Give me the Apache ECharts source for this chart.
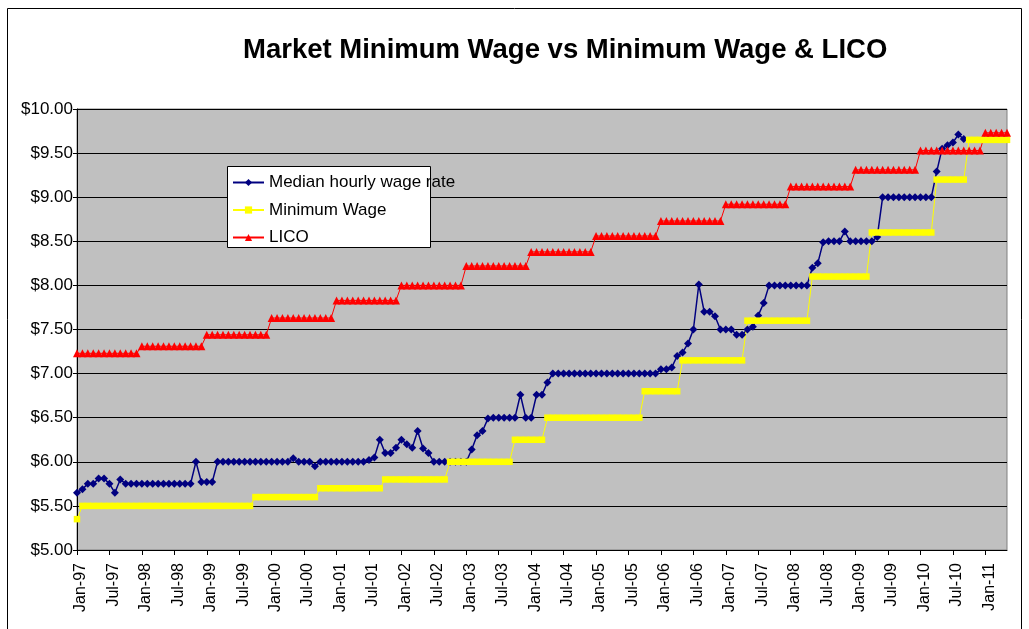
<!DOCTYPE html>
<html>
<head>
<meta charset="utf-8">
<title>Market Minimum Wage vs Minimum Wage &amp; LICO</title>
<script src="https://cdn.jsdelivr.net/npm/echarts@6/dist/echarts.min.js"></script>
<style>
  html, body { margin: 0; padding: 0; background: #fff; }
  #myChart { width: 1029px; height: 629px; }
</style>
</head>
<body>
<div id="myChart"></div>
<script>
// month labels Jan-97 .. May-11
var monthNames = ['Jan', 'Feb', 'Mar', 'Apr', 'May', 'Jun', 'Jul', 'Aug', 'Sep', 'Oct', 'Nov', 'Dec'];
var firstYear = 1997;
var monthCount = 173;
var months = [];
for (var i = 0; i < monthCount; i++) {
  var yy = (firstYear + Math.floor(i / 12)) % 100;
  months.push(monthNames[i % 12] + '-' + (yy < 10 ? '0' + yy : yy));
}

// one row per year
var medianWage = [
  5.65, 5.69, 5.75, 5.75, 5.81, 5.81, 5.75, 5.65, 5.80, 5.75, 5.75, 5.75,
  5.75, 5.75, 5.75, 5.75, 5.75, 5.75, 5.75, 5.75, 5.75, 5.75, 6.00, 5.77,
  5.77, 5.77, 6.00, 6.00, 6.00, 6.00, 6.00, 6.00, 6.00, 6.00, 6.00, 6.00,
  6.00, 6.00, 6.00, 6.00, 6.04, 6.00, 6.00, 6.00, 5.95, 6.00, 6.00, 6.00,
  6.00, 6.00, 6.00, 6.00, 6.00, 6.00, 6.02, 6.05, 6.25, 6.10, 6.10, 6.16,
  6.25, 6.20, 6.16, 6.35, 6.15, 6.10, 6.00, 6.00, 6.00, 6.00, 6.00, 6.00,
  6.00, 6.14, 6.30, 6.35, 6.49, 6.50, 6.50, 6.50, 6.50, 6.50, 6.76, 6.50,
  6.50, 6.76, 6.76, 6.90, 7.00, 7.00, 7.00, 7.00, 7.00, 7.00, 7.00, 7.00,
  7.00, 7.00, 7.00, 7.00, 7.00, 7.00, 7.00, 7.00, 7.00, 7.00, 7.00, 7.00,
  7.05, 7.05, 7.07, 7.20, 7.24, 7.34, 7.50, 8.01, 7.70, 7.70, 7.65, 7.50,
  7.50, 7.50, 7.44, 7.44, 7.50, 7.53, 7.66, 7.80, 8.00, 8.00, 8.00, 8.00,
  8.00, 8.00, 8.00, 8.00, 8.20, 8.25, 8.49, 8.50, 8.50, 8.50, 8.61, 8.50,
  8.50, 8.50, 8.50, 8.50, 8.55, 9.00, 9.00, 9.00, 9.00, 9.00, 9.00, 9.00,
  9.00, 9.00, 9.00, 9.29, 9.55, 9.59, 9.62, 9.71, 9.66, null, null, null,
  null, null, null, null, null
];

var minimumWage = [
  5.35, 5.50, 5.50, 5.50, 5.50, 5.50, 5.50, 5.50, 5.50, 5.50, 5.50, 5.50,
  5.50, 5.50, 5.50, 5.50, 5.50, 5.50, 5.50, 5.50, 5.50, 5.50, 5.50, 5.50,
  5.50, 5.50, 5.50, 5.50, 5.50, 5.50, 5.50, 5.50, 5.50, 5.60, 5.60, 5.60,
  5.60, 5.60, 5.60, 5.60, 5.60, 5.60, 5.60, 5.60, 5.60, 5.70, 5.70, 5.70,
  5.70, 5.70, 5.70, 5.70, 5.70, 5.70, 5.70, 5.70, 5.70, 5.80, 5.80, 5.80,
  5.80, 5.80, 5.80, 5.80, 5.80, 5.80, 5.80, 5.80, 5.80, 6.00, 6.00, 6.00,
  6.00, 6.00, 6.00, 6.00, 6.00, 6.00, 6.00, 6.00, 6.00, 6.25, 6.25, 6.25,
  6.25, 6.25, 6.25, 6.50, 6.50, 6.50, 6.50, 6.50, 6.50, 6.50, 6.50, 6.50,
  6.50, 6.50, 6.50, 6.50, 6.50, 6.50, 6.50, 6.50, 6.50, 6.80, 6.80, 6.80,
  6.80, 6.80, 6.80, 6.80, 7.15, 7.15, 7.15, 7.15, 7.15, 7.15, 7.15, 7.15,
  7.15, 7.15, 7.15, 7.15, 7.60, 7.60, 7.60, 7.60, 7.60, 7.60, 7.60, 7.60,
  7.60, 7.60, 7.60, 7.60, 8.10, 8.10, 8.10, 8.10, 8.10, 8.10, 8.10, 8.10,
  8.10, 8.10, 8.10, 8.60, 8.60, 8.60, 8.60, 8.60, 8.60, 8.60, 8.60, 8.60,
  8.60, 8.60, 8.60, 9.20, 9.20, 9.20, 9.20, 9.20, 9.20, 9.65, 9.65, 9.65,
  9.65, 9.65, 9.65, 9.65, 9.65
];

var lico = [
  7.23, 7.23, 7.23, 7.23, 7.23, 7.23, 7.23, 7.23, 7.23, 7.23, 7.23, 7.23,
  7.31, 7.31, 7.31, 7.31, 7.31, 7.31, 7.31, 7.31, 7.31, 7.31, 7.31, 7.31,
  7.44, 7.44, 7.44, 7.44, 7.44, 7.44, 7.44, 7.44, 7.44, 7.44, 7.44, 7.44,
  7.63, 7.63, 7.63, 7.63, 7.63, 7.63, 7.63, 7.63, 7.63, 7.63, 7.63, 7.63,
  7.83, 7.83, 7.83, 7.83, 7.83, 7.83, 7.83, 7.83, 7.83, 7.83, 7.83, 7.83,
  8.00, 8.00, 8.00, 8.00, 8.00, 8.00, 8.00, 8.00, 8.00, 8.00, 8.00, 8.00,
  8.22, 8.22, 8.22, 8.22, 8.22, 8.22, 8.22, 8.22, 8.22, 8.22, 8.22, 8.22,
  8.38, 8.38, 8.38, 8.38, 8.38, 8.38, 8.38, 8.38, 8.38, 8.38, 8.38, 8.38,
  8.56, 8.56, 8.56, 8.56, 8.56, 8.56, 8.56, 8.56, 8.56, 8.56, 8.56, 8.56,
  8.73, 8.73, 8.73, 8.73, 8.73, 8.73, 8.73, 8.73, 8.73, 8.73, 8.73, 8.73,
  8.92, 8.92, 8.92, 8.92, 8.92, 8.92, 8.92, 8.92, 8.92, 8.92, 8.92, 8.92,
  9.12, 9.12, 9.12, 9.12, 9.12, 9.12, 9.12, 9.12, 9.12, 9.12, 9.12, 9.12,
  9.31, 9.31, 9.31, 9.31, 9.31, 9.31, 9.31, 9.31, 9.31, 9.31, 9.31, 9.31,
  9.53, 9.53, 9.53, 9.53, 9.53, 9.53, 9.53, 9.53, 9.53, 9.53, 9.53, 9.53,
  9.73, 9.73, 9.73, 9.73, 9.73
];

var seriesNames = ['Median hourly wage rate', 'Minimum Wage', 'LICO'];
var fontFamily = '"Liberation Sans", Arial, sans-serif';

var chart = echarts.init(document.getElementById('myChart'));
var options = {
  animation: false,
  backgroundColor: '#fff',
  textStyle: { fontFamily: fontFamily, color: '#000' },
  title: {
    text: 'Market Minimum Wage vs Minimum Wage & LICO',
    left: 243,
    top: 36,
    padding: 0,
    textStyle: { fontFamily: fontFamily, fontSize: 27.5, fontWeight: 'bold', color: '#000' }
  },
  graphic: [
    {
      // outer chart frame
      type: 'rect',
      silent: true,
      z: 0,
      shape: { x: 7.5, y: 8.5, width: 1014, height: 700 },
      style: { fill: null, stroke: '#000', lineWidth: 1 }
    },
    {
      // legend box (text runs past it, as in the original)
      type: 'rect',
      silent: true,
      z: 10,
      shape: { x: 227.5, y: 166.5, width: 203, height: 81 },
      style: { fill: '#fff', stroke: '#000', lineWidth: 1 }
    }
  ],
  legend: {
    data: seriesNames,
    orient: 'vertical',
    left: 232,
    top: 174,
    padding: 0,
    z: 11,
    itemWidth: 31,
    itemHeight: 9,
    itemGap: 10.5,
    textStyle: { fontFamily: fontFamily, fontSize: 17, lineHeight: 17, color: '#000' }
  },
  grid: {
    left: 77,
    right: 22,
    top: 109,
    bottom: 79,
    show: true,
    backgroundColor: '#C0C0C0',
    borderColor: '#808080',
    borderWidth: 1
  },
  xAxis: {
    type: 'category',
    data: months,
    boundaryGap: false,
    axisLine: { lineStyle: { color: '#000', width: 1 } },
    axisTick: { interval: 5, length: 5, lineStyle: { color: '#000' } },
    axisLabel: {
      interval: 5,
      rotate: 90,
      margin: 13,
      verticalAlign: 'top',
      lineHeight: 8,
      fontFamily: fontFamily,
      fontSize: 16,
      color: '#000'
    },
    splitLine: { show: false }
  },
  yAxis: {
    type: 'value',
    min: 5,
    max: 10,
    interval: 0.5,
    axisLine: { show: true, lineStyle: { color: '#000', width: 1 } },
    axisTick: { show: true, length: 4, lineStyle: { color: '#000' } },
    axisLabel: {
      margin: 4,
      fontFamily: fontFamily,
      fontSize: 17,
      color: '#000',
      formatter: function (v) { return '$' + v.toFixed(2); }
    },
    splitLine: { lineStyle: { color: '#000', width: 1 } }
  },
  series: [
    {
      name: seriesNames[0],
      type: 'line',
      data: medianWage,
      symbol: 'diamond',
      symbolSize: 8,
      showAllSymbol: true,
      connectNulls: false,
      itemStyle: { color: '#000080' },
      lineStyle: { color: '#000080', width: 1.5 }
    },
    {
      name: seriesNames[1],
      type: 'line',
      data: minimumWage,
      symbol: 'rect',
      symbolSize: 6.5,
      showAllSymbol: true,
      itemStyle: { color: '#FFFF00' },
      lineStyle: { color: '#FFFF00', width: 1 }
    },
    {
      name: seriesNames[2],
      type: 'line',
      data: lico,
      symbol: 'triangle',
      symbolSize: 8,
      showAllSymbol: true,
      itemStyle: { color: '#FF0000' },
      lineStyle: { color: '#FF0000', width: 1 }
    }
  ]
};
chart.setOption(options);
</script>
</body>
</html>
